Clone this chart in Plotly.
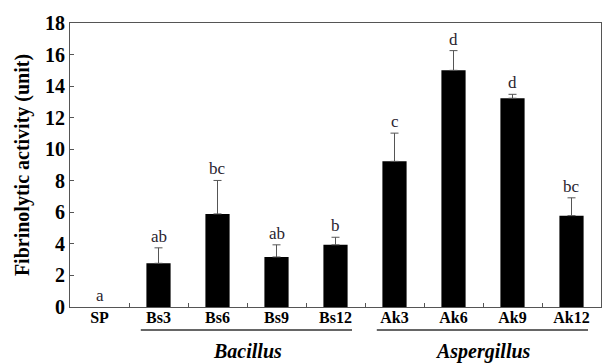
import plotly.graph_objects as go

categories = ["SP", "Bs3", "Bs6", "Bs9", "Bs12", "Ak3", "Ak6", "Ak9", "Ak12"]
activity = [0.0, 2.77, 5.9, 3.17, 3.94, 9.23, 15.0, 13.23, 5.79]
error_plus = [0.0, 0.98, 2.12, 0.77, 0.48, 1.79, 1.25, 0.25, 1.13]
letters = ["a", "ab", "bc", "ab", "b", "c", "d", "d", "bc"]
y_ticks = [0, 2, 4, 6, 8, 10, 12, 14, 16, 18]
groups = [("Bacillus", 1, 4), ("Aspergillus", 5, 8)]

serif = "Liberation Serif"

has_err = [e > 0 for e in error_plus]
fig = go.Figure()
# bars
fig.add_trace(go.Bar(
    x=categories, y=activity, width=0.41,
    marker=dict(color=["black" if v > 0 else "rgba(0,0,0,0)" for v in activity], line=dict(width=0)),
    showlegend=False, hoverinfo="skip",
))
# upper error bars only where an error exists
fig.add_trace(go.Scatter(
    x=[c for c, h in zip(categories, has_err) if h],
    y=[v for v, h in zip(activity, has_err) if h],
    mode="markers", marker=dict(size=0.1, color="rgba(0,0,0,0)"),
    error_y=dict(type="data", symmetric=False,
                 array=[e for e, h in zip(error_plus, has_err) if h],
                 arrayminus=[0 for h in has_err if h],
                 color="#555555", thickness=1, width=4),
    showlegend=False, hoverinfo="skip",
))

for c, v, e, t in zip(categories, activity, error_plus, letters):
    fig.add_annotation(x=c, y=v + e, text=t, showarrow=False, yanchor="bottom", yshift=0,
                       font=dict(family=serif, size=17, color="#2a2430"))

for name, i0, i1 in groups:
    fig.add_shape(type="line", xref="x", yref="paper", x0=i0 - 0.3, x1=i1 + 0.28,
                  y0=-0.081, y1=-0.081, line=dict(color="#333333", width=1.3))
    fig.add_annotation(x=(i0 + i1) / 2, xref="x", y=-0.108, yref="paper", yanchor="top",
                       text="<b><i>%s</i></b>" % name, showarrow=False,
                       font=dict(family=serif, size=20, color="black"))

fig.update_layout(
    width=614, height=363,
    margin=dict(l=70, r=13, t=19, b=56),
    paper_bgcolor="white", plot_bgcolor="white",
)
fig.update_xaxes(
    type="category", range=[-0.5, 8.5], tickson="boundaries",
    ticks="inside", ticklen=4, tickcolor="#555555",
    showline=True, linecolor="#555555", linewidth=1, mirror=True,
    tickfont=dict(family=serif, size=16, color="black"),
    tickprefix="<b>", ticksuffix="</b>", showgrid=False,
    ticklabelstandoff=-4,
)
fig.update_yaxes(
    range=[0, 18], tickvals=y_ticks, ticktext=["<b>%d</b>" % v for v in y_ticks],
    ticks="inside", ticklen=4, tickcolor="#555555",
    showline=True, linecolor="#555555", linewidth=1, mirror=True,
    tickfont=dict(family=serif, size=20, color="black"), showgrid=False, zeroline=False,
    title=dict(text="<b>Fibrinolytic activity (unit)</b>", standoff=10,
               font=dict(family=serif, size=20, color="black")),
)

fig.write_html("out.html", config={"displayModeBar": False},
               post_script="document.body.style.margin='0px';")
